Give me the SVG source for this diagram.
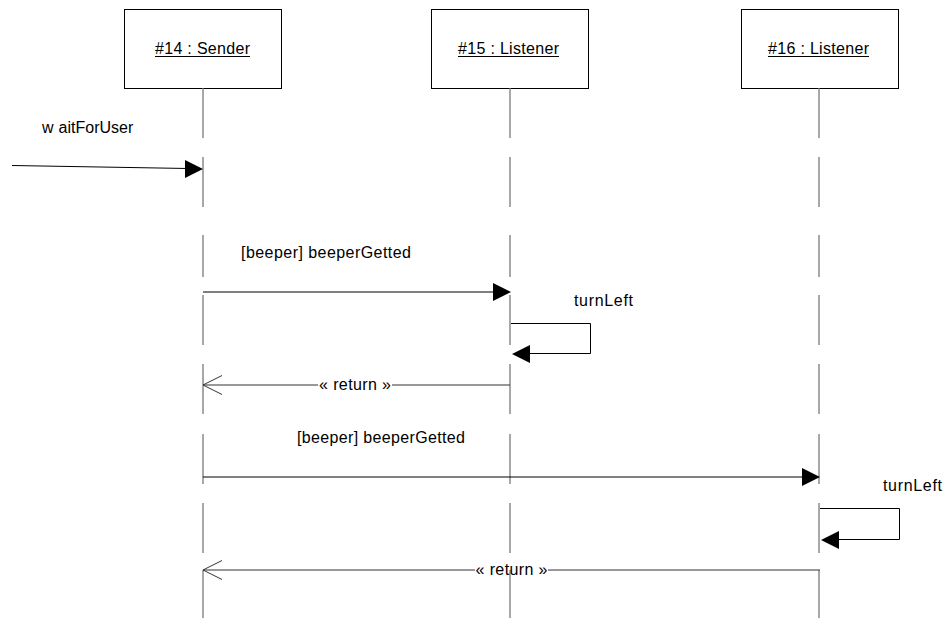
<svg xmlns="http://www.w3.org/2000/svg" width="946" height="618" viewBox="0 0 946 618">
<style>
.box{fill:#fff;stroke:#000;stroke-width:1}
.life{stroke:#7a7a7a;stroke-width:1.3;fill:none}
.t{font-family:"Liberation Sans",Arial,sans-serif;font-size:16px;fill:#000}
.ul{stroke:#000;stroke-width:1}
.msg{stroke:#000;stroke-width:1;fill:none}
.ret{stroke:#333;stroke-width:1;fill:none}
.head{fill:#000;stroke:none}
</style>
<defs>
<path id="seg" d="M0,88V138M0,157V207M0,235V277M0,295V345M0,364V414M0,434V484M0,503V553M0,570V618"/>
</defs>
<rect width="946" height="618" fill="#fff"/>
<g id="sender">
<rect class="box" x="124.5" y="9.5" width="157" height="79"/>
<text class="t" x="155" y="54" textLength="95" lengthAdjust="spacing">#14 : Sender</text>
<line class="ul" x1="155" y1="56.5" x2="250" y2="56.5"/>
<use href="#seg" x="203" class="life"/>
</g>
<g id="listener15">
<rect class="box" x="431.5" y="9.5" width="157" height="79"/>
<text class="t" x="458" y="54" textLength="101" lengthAdjust="spacing">#15 : Listener</text>
<line class="ul" x1="458" y1="56.5" x2="559" y2="56.5"/>
<use href="#seg" x="510" class="life"/>
</g>
<g id="listener16">
<rect class="box" x="741.5" y="9.5" width="157" height="79"/>
<text class="t" x="768" y="54" textLength="101" lengthAdjust="spacing">#16 : Listener</text>
<line class="ul" x1="768" y1="56.5" x2="869" y2="56.5"/>
<use href="#seg" x="819" class="life"/>
</g>
<g id="connectors">
<g id="m1">
<text class="t" x="42" y="133">w<tspan dx="5">aitForUser</tspan></text>
<line class="msg" x1="12" y1="165.5" x2="188" y2="168.5"/>
<polygon class="head" points="203,169 185,160 185,178"/>
</g>
<g id="m2">
<text class="t" x="241" y="258" textLength="170" lengthAdjust="spacing">[beeper] beeperGetted</text>
<line class="msg" x1="203" y1="292" x2="495" y2="292"/>
<polygon class="head" points="511,292 493,283 493,301"/>
</g>
<g id="m3">
<text class="t" x="574" y="306" textLength="59" lengthAdjust="spacing">turnLeft</text>
<polyline class="msg" points="511,323.5 590.5,323.5 590.5,353.5 528,353.5"/>
<polygon class="head" points="512,354 530,345 530,363"/>
</g>
<g id="m4">
<line class="ret" x1="510" y1="385" x2="392" y2="385"/>
<line class="ret" x1="318" y1="385" x2="203" y2="385"/>
<polyline class="ret" points="222,375.5 203,385 222,394.5"/>
<text class="t" x="355" y="390" text-anchor="middle" textLength="72" lengthAdjust="spacing">« return »</text>
</g>
<g id="m5">
<text class="t" x="297" y="443" textLength="168" lengthAdjust="spacing">[beeper] beeperGetted</text>
<line class="msg" x1="203" y1="477" x2="804" y2="477"/>
<polygon class="head" points="820,477 802,468 802,486"/>
</g>
<g id="m6">
<text class="t" x="883" y="491" textLength="59" lengthAdjust="spacing">turnLeft</text>
<polyline class="msg" points="820,508.5 899.5,508.5 899.5,539.5 837,539.5"/>
<polygon class="head" points="821,540 839,531 839,549"/>
</g>
<g id="m7">
<line class="ret" x1="820" y1="570" x2="548" y2="570"/>
<line class="ret" x1="475" y1="570" x2="203" y2="570"/>
<polyline class="ret" points="222,560.5 203,570 222,579.5"/>
<text class="t" x="511.5" y="575" text-anchor="middle" textLength="72" lengthAdjust="spacing">« return »</text>
</g>
</g>
</svg>
